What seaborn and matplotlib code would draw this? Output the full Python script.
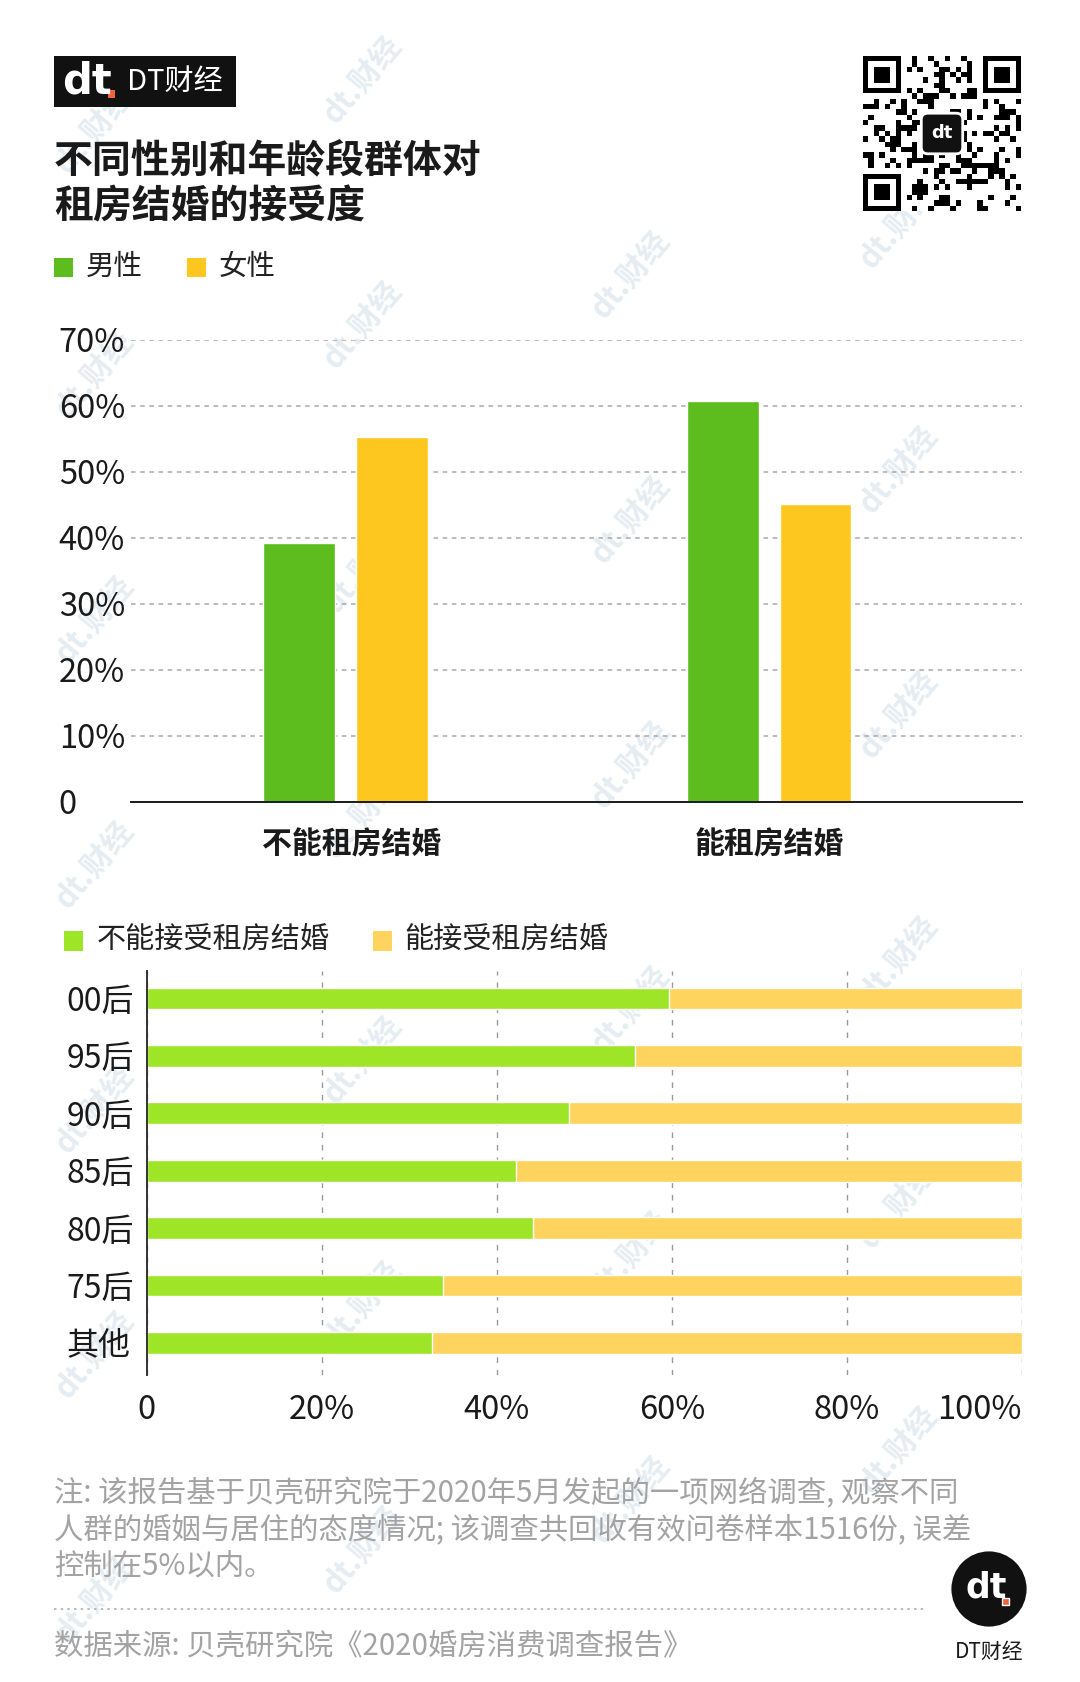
import numpy as np
import pandas as pd
import matplotlib
matplotlib.use("Agg")
import matplotlib.pyplot as plt
import matplotlib.patches as mpatches
import seaborn as sns

# ---- data ----
groups = ["不能租房结婚", "能租房结婚"]
male = [39.3, 60.7]
female = [55.3, 45.1]

ages = ["00后", "95后", "90后", "85后", "80后", "75后", "其他"]
cannot_accept = [59.7, 55.8, 48.3, 42.2, 44.1, 33.9, 32.6]
can_accept = [40.3, 44.2, 51.7, 57.8, 55.9, 66.1, 67.4]

top_ticks = [0, 10, 20, 30, 40, 50, 60, 70]
top_labels = ["0", "10%", "20%", "30%", "40%", "50%", "60%", "70%"]
bot_ticks = [0, 20, 40, 60, 80, 100]
bot_labels = ["0", "20%", "40%", "60%", "80%", "100%"]

title = "不同性别和年龄段群体对\n租房结婚的接受度"
note = ("注: 该报告基于贝壳研究院于2020年5月发起的一项网络调查, 观察不同\n"
        "人群的婚姻与居住的态度情况; 该调查共回收有效问卷样本1516份, 误差\n"
        "控制在5%以内。")
source = "数据来源: 贝壳研究院《2020婚房消费调查报告》"

GREEN1, YELLOW1 = "#5dbd1f", "#fdc71f"
GREEN2, YELLOW2 = "#9de526", "#fed45e"
DARK = "#1a1a1a"
GRID = "#a8a8a8"

sns.set_theme(style="white")
CJK = ["Noto Sans CJK SC", "DejaVu Sans"]
plt.rcParams["font.family"] = CJK

W, H = 1080, 1682
fig = plt.figure(figsize=(W / 100, H / 100), dpi=100)
fig.patch.set_facecolor("white")


def fx(x):
    return x / W


def fy(y):
    return 1 - y / H


def box(x0, y0, x1, y1):
    return [fx(x0), fy(y1), fx(x1) - fx(x0), fy(y0) - fy(y1)]


# watermarks
for i in range(4):
    for base in [130, 375, 620, 865, 1110, 1355, 1600]:
        wx, wy = 95 + 268 * i, base - 50 * i
        if 70 < wy < H - 40:
            fig.text(fx(wx), fy(wy), "dt.财经", rotation=50, fontsize=22,
                     weight="bold", color="#e6edf2", ha="center", va="center",
                     zorder=-5)

# ---- header ----
fig.patches.append(mpatches.Rectangle((fx(54), fy(107)), fx(236) - fx(54),
                                      fy(56) - fy(107), transform=fig.transFigure,
                                      facecolor="#111111", edgecolor="none"))
fig.text(fx(62), fy(82), "dt", color="white", fontsize=30, weight="black",
         va="center", ha="left", family="DejaVu Sans")
fig.patches.append(mpatches.Rectangle((fx(108), fy(98)), fx(7), fy(0) - fy(8),
                                      transform=fig.transFigure,
                                      facecolor="#f0643c", edgecolor="none"))
fig.text(fx(127), fy(82), "DT财经", color="white", fontsize=21, va="center",
         ha="left")

fig.text(fx(54), fy(184), title, fontsize=28, weight="bold", color=DARK,
         va="center", ha="left", linespacing=1.2)

# legend top
for sx, lab, col in [(54, "男性", GREEN1), (187, "女性", YELLOW1)]:
    fig.patches.append(mpatches.Rectangle((fx(sx), fy(277)), fx(19), fy(0) - fy(19),
                                          transform=fig.transFigure,
                                          facecolor=col, edgecolor="none"))
    fig.text(fx(sx + 32), fy(267), lab, fontsize=20.5, color="#222222",
             va="center", ha="left", weight="light")

# QR code-like decoration
n = 29
qr = np.zeros((n, n))
ii, jj = np.mgrid[0:n, 0:n]
qr[((ii * 7 + jj * 13) ^ (ii * jj)) % 3 == 0] = 1
for r0, c0 in [(0, 0), (0, n - 7), (n - 7, 0)]:
    qr[max(r0 - 1, 0):r0 + 8, max(c0 - 1, 0):c0 + 8] = 0
    qr[r0:r0 + 7, c0:c0 + 7] = 1
    qr[r0 + 1:r0 + 6, c0 + 1:c0 + 6] = 0
    qr[r0 + 2:r0 + 5, c0 + 2:c0 + 5] = 1
ax_qr = fig.add_axes(box(863, 56, 1021, 211))
ax_qr.imshow(qr, cmap="gray_r", interpolation="nearest", aspect="auto")
ax_qr.add_patch(mpatches.FancyBboxPatch((10.5, 10.5), 7, 7,
                                        boxstyle="round,pad=0.3,rounding_size=1.2",
                                        facecolor="#111111", edgecolor="white", lw=2))
ax_qr.text(14, 14, "dt", color="white", fontsize=13, weight="black",
           ha="center", va="center", family="DejaVu Sans")
ax_qr.axis("off")

# ---- top chart ----
df_top = pd.DataFrame({
    "group": groups * 2,
    "gender": ["男性"] * len(groups) + ["女性"] * len(groups),
    "value": male + female,
})
ax1 = fig.add_axes(box(131, 340, 1022, 802))
ax1.set_facecolor("none")
sns.barplot(data=df_top, x="group", y="value", hue="gender",
            palette={"男性": GREEN1, "女性": YELLOW1}, width=0.438, gap=0.225,
            saturation=1, legend=False, ax=ax1, zorder=3)
ax1.set_xlim(-0.506, 1.597)
ax1.set_ylim(0, 70)
ax1.set_xticks([0.015, 1.0], labels=groups)
ax1.set_yticks(top_ticks)
ax1.set_yticklabels(top_labels, fontsize=23.5, color=DARK)
for lab in ax1.get_yticklabels():
    lab.set_ha("left")
ax1.tick_params(axis="y", length=0, pad=52)
ax1.tick_params(axis="x", length=0, pad=20)
for lab in ax1.get_xticklabels():
    lab.set_fontsize(21.5)
    lab.set_weight("bold")
    lab.set_color(DARK)
ax1.set_xlabel("")
ax1.set_ylabel("")
ax1.grid(axis="y", color=GRID, linestyle=(0, (3, 3)), linewidth=1.1, zorder=0)
ax1.grid(axis="x", visible=False)
for s in ["left", "right", "top"]:
    ax1.spines[s].set_visible(False)
ax1.spines["bottom"].set_color(DARK)
ax1.spines["bottom"].set_linewidth(1.4)
ax1.spines["bottom"].set_zorder(4)

# ---- bottom chart ----
for sx, tx, lab, col in [(64, 97, "不能接受租房结婚", GREEN2), (373, 404, "能接受租房结婚", YELLOW2)]:
    fig.patches.append(mpatches.Rectangle((fx(sx), fy(951)), fx(19), fy(0) - fy(20),
                                          transform=fig.transFigure,
                                          facecolor=col, edgecolor="none"))
    fig.text(fx(tx), fy(940), lab, fontsize=21, color="#222222",
             va="center", ha="left", weight="light")

df_bot = pd.DataFrame({"age": ages, "cannot": cannot_accept, "can": can_accept})
df_bot["total"] = df_bot["cannot"] + df_bot["can"]
ax2 = fig.add_axes(box(146.7, 971, 1022, 1375))
ax2.set_facecolor("none")
sns.barplot(data=df_bot, y="age", x="total", color=YELLOW2, saturation=1,
            width=0.378, orient="h", ax=ax2, zorder=3)
sns.barplot(data=df_bot, y="age", x="cannot", color=GREEN2, saturation=1,
            width=0.378, orient="h", ax=ax2, zorder=4)
ax2.set_xlim(0, 100)
ax2.set_ylim(6.56, -0.479)
ax2.set_xticks(bot_ticks)
ax2.set_xticklabels(bot_labels, fontsize=23.5, color=DARK)
ax2.get_xticklabels()[0].set_x(0.8)
ax2.get_xticklabels()[-1].set_ha("right")
ax2.get_xticklabels()[-1].set_x(100.6)
ax2.tick_params(axis="x", length=0, pad=14)
ax2.set_yticks(range(len(ages)))
ax2.set_yticklabels(ages, fontsize=23, color=DARK)
for lab in ax2.get_yticklabels():
    lab.set_ha("left")
ax2.tick_params(axis="y", length=0, pad=58)
ax2.set_xlabel("")
ax2.set_ylabel("")
ax2.grid(axis="x", color="#999999", linestyle=(0, (4, 5)), linewidth=1.0, zorder=0)
ax2.grid(axis="y", visible=False)
for s in ["right", "top", "bottom"]:
    ax2.spines[s].set_visible(False)
ax2.spines["left"].set_color("#333333")
ax2.spines["left"].set_linewidth(1.4)
ax2.spines["left"].set_zorder(5)

# ---- footer ----
fig.text(fx(54), fy(1530), note, fontsize=21.2, color="#a3a3a3", va="center",
         ha="left", linespacing=1.2, weight="light")
fig.add_artist(plt.Line2D([fx(54), fx(924)], [fy(1609), fy(1609)],
                          transform=fig.transFigure, color="#b0b0b0",
                          linestyle=(0, (1.5, 2.5)), linewidth=1.2))
fig.text(fx(54), fy(1646), source, fontsize=21.2, color="#a3a3a3", va="center",
         ha="left", weight="light")

ax_logo = fig.add_axes(box(949, 1549, 1029, 1629))
ax_logo.set_xlim(0, 1)
ax_logo.set_ylim(0, 1)
ax_logo.add_patch(mpatches.Circle((0.5, 0.5), 0.47, facecolor="#111111", edgecolor="none"))
ax_logo.text(0.47, 0.52, "dt", color="white", fontsize=25, weight="black",
             ha="center", va="center", family="DejaVu Sans")
ax_logo.add_patch(mpatches.Rectangle((0.66, 0.3), 0.09, 0.09, facecolor="#f0643c"))
ax_logo.axis("off")
fig.text(fx(989), fy(1652), "DT财经", fontsize=15, color=DARK, ha="center",
         va="center")

fig.savefig("out.png", dpi=100, facecolor="white")
